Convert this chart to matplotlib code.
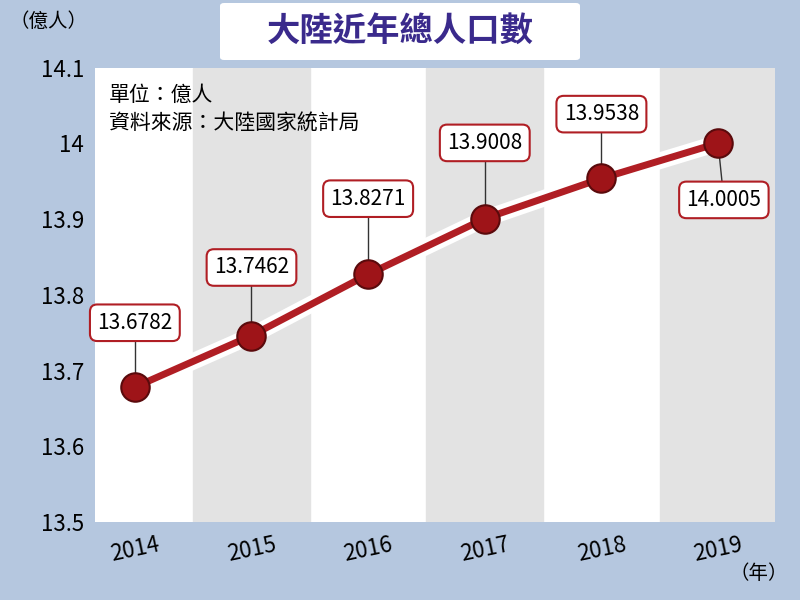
import matplotlib
matplotlib.use("Agg")
import matplotlib.pyplot as plt
from matplotlib.patches import FancyBboxPatch

plt.rcParams['font.family'] = ['Noto Sans CJK TC', 'DejaVu Sans']

years = ['2014', '2015', '2016', '2017', '2018', '2019']
population = [13.6782, 13.7462, 13.8271, 13.9008, 13.9538, 14.0005]
labels = ['13.6782', '13.7462', '13.8271', '13.9008', '13.9538', '14.0005']
yticks = [13.5, 13.6, 13.7, 13.8, 13.9, 14, 14.1]
ytick_labels = ['13.5', '13.6', '13.7', '13.8', '13.9', '14', '14.1']

bg = '#b5c7df'
fig = plt.figure(figsize=(8, 6), dpi=100, facecolor=bg)
ax = fig.add_axes([0.119, 0.13, 0.85, 0.757])
ax.set_facecolor('white')
x = list(range(len(years)))
xl, xr = -0.34, 5.49
ax.set_xlim(xl, xr)
ax.set_ylim(13.5, 14.1)
for i in x:
    if i % 2 == 1:
        ax.axvspan(i - 0.5, min(i + 0.5, xr), color='#e3e3e3', zorder=0)

ax.plot(x, population, color='white', lw=12, solid_capstyle='round', zorder=2)
ax.plot(x, population, color='#b01e24', lw=5, zorder=3)
ax.scatter(x, population, s=420, color='#9e1418', edgecolor='#5a0a0c', lw=1.5, zorder=4)

offsets = [(0, 0.085), (0, 0.09), (0, 0.1), (0, 0.1), (0, 0.085), (0.05, -0.075)]
for xi, yi, lab, (dx, dy) in zip(x, population, labels, offsets):
    tx, ty = xi + dx, yi + dy
    ax.plot([xi, tx], [yi, ty], color='#333333', lw=1, zorder=3)
    ax.text(tx, ty, lab, ha='center', va='center', fontsize=15, zorder=6,
            bbox=dict(boxstyle='round,pad=0.35', fc='white', ec='#b01e24', lw=1.5))

ax.set_yticks(yticks)
ax.set_yticklabels(ytick_labels, fontsize=16)
ax.set_xticks(x)
ax.set_xticklabels(years, fontsize=16, rotation=12)
ax.tick_params(length=0, pad=8)
for s in ax.spines.values():
    s.set_visible(False)

ax.text(0.02, 0.965, '單位：億人\n資料來源：大陸國家統計局', transform=ax.transAxes,
        fontsize=15, va='top', linespacing=1.4)

fig.text(0.012, 0.955, '（億人）', fontsize=14)
fig.text(0.985, 0.035, '（年）', fontsize=14, ha='right')
fig.patches.append(FancyBboxPatch((0.28, 0.905), 0.44, 0.085, boxstyle='round,pad=0.005',
                                  transform=fig.transFigure, fc='white', ec='none'))
fig.text(0.5, 0.948, '大陸近年總人口數', fontsize=24, fontweight='bold', color='#3a2a8c',
         ha='center', va='center')

fig.savefig('out.png', dpi=100, facecolor=bg)
